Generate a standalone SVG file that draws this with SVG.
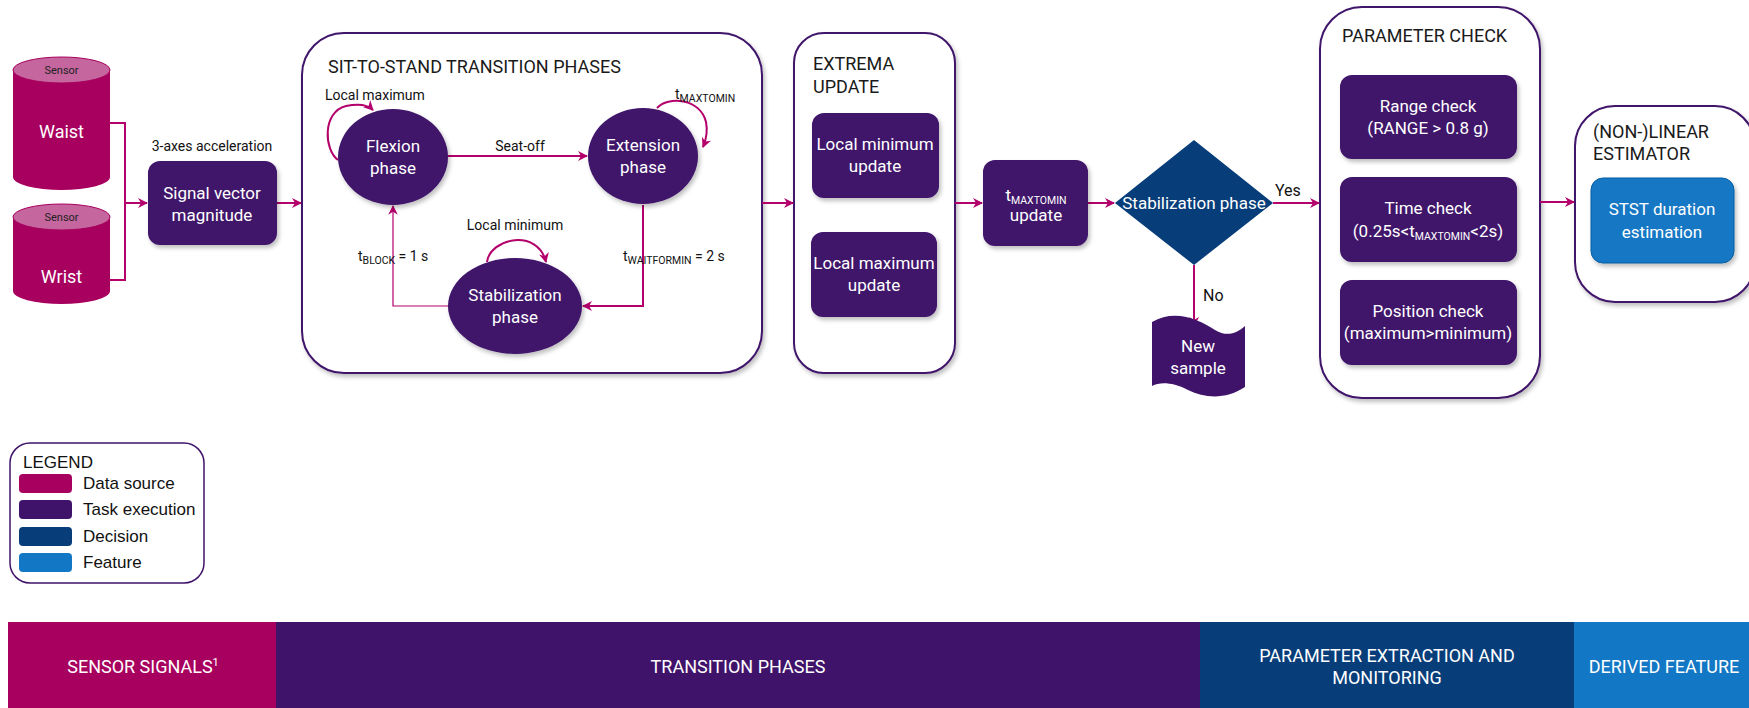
<svg xmlns="http://www.w3.org/2000/svg" width="1749" height="708" viewBox="0 0 1749 708">
<style>
  text { font-family: Roboto, "Liberation Sans", sans-serif; }
  .w { fill: #ffffff; font-size: 17px; text-anchor: middle; }
  .lbl { fill: #111111; font-size: 14px; }
  .title { fill: #1a1a1a; font-size: 18px; }
  .cont { fill: #ffffff; stroke: #3f136a; stroke-width: 2; }
  .task { fill: #3f136a; }
  .conn { fill: none; stroke: #b3006b; stroke-width: 2; }
  .thin { fill: none; stroke: #b3006b; stroke-width: 1.2; }
  .band { fill: #ffffff; font-size: 18px; text-anchor: middle; }
  .leg { fill: #111111; font-size: 17px; font-family: "Liberation Sans", Arial, sans-serif; }
  .sub { font-size: 10.5px; }
</style>
<defs>
  <marker id="arr" viewBox="0 0 10 10" refX="9" refY="5" markerWidth="5" markerHeight="5" orient="auto" markerUnits="strokeWidth">
    <path d="M0,0 L10,5 L0,10 L3,5 Z" fill="#b3006b"/>
  </marker>
  <marker id="arrt" viewBox="0 0 10 10" refX="9" refY="5" markerWidth="8" markerHeight="8" orient="auto" markerUnits="strokeWidth">
    <path d="M0,0 L10,5 L0,10 L3,5 Z" fill="#b3006b"/>
  </marker>
  <filter id="sh" x="-10%" y="-10%" width="125%" height="130%">
    <feDropShadow dx="2" dy="3" stdDeviation="2" flood-color="#000000" flood-opacity="0.25"/>
  </filter>
</defs>
<rect width="1749" height="708" fill="#ffffff"/>

<!-- containers -->
<g id="sts-container"><rect class="cont" x="302" y="33" width="460" height="340" rx="42" filter="url(#sh)"/>
  <text class="title" x="328" y="73">SIT-TO-STAND TRANSITION PHASES</text></g>
<g id="extrema-container"><rect class="cont" x="794" y="33" width="161" height="340" rx="30" filter="url(#sh)"/>
  <text class="title" x="813" y="70">EXTREMA</text><text class="title" x="813" y="93">UPDATE</text></g>
<g id="param-container"><rect class="cont" x="1320" y="7" width="220" height="391" rx="42" filter="url(#sh)"/>
  <text class="title" x="1342" y="42">PARAMETER CHECK</text></g>
<g id="estimator-container"><rect class="cont" x="1575" y="106" width="180" height="196" rx="40" filter="url(#sh)"/>
  <text class="title" x="1593" y="138">(NON-)LINEAR</text><text class="title" x="1593" y="160">ESTIMATOR</text></g>

<!-- connectors -->
<g id="connectors">
  <path class="conn" d="M110,123 H125 V203 H147" marker-end="url(#arr)"/>
  <path class="conn" d="M110,280 H125 V203"/>
  <path class="conn" d="M277,203 H301" marker-end="url(#arr)"/>
  <path class="conn" d="M448,156 H587" marker-end="url(#arr)"/>
  <path class="conn" d="M338,160 C324,150 322,112 346,106 C360,103 368,105 373,110" marker-end="url(#arr)"/>
  <path class="conn" d="M657,108 C668,96 700,98 706,122 C708,132 706,140 703,147" marker-end="url(#arr)"/>
  <path class="conn" d="M487,262 C490,238 538,228 546,262" marker-end="url(#arr)"/>
  <path class="conn" d="M643,205 V306 H583" marker-end="url(#arr)"/>
  <path class="thin" d="M448,306 H393 V206" marker-end="url(#arrt)"/>
  <path class="conn" d="M762,203 H793" marker-end="url(#arr)"/>
  <path class="conn" d="M955,203 H982" marker-end="url(#arr)"/>
  <path class="conn" d="M1088,203 H1114" marker-end="url(#arr)"/>
  <path class="conn" d="M1273,203 H1319" marker-end="url(#arr)"/>
  <path class="conn" d="M1194,265 V326" marker-end="url(#arr)"/>
  <path class="conn" d="M1540,202 H1574" marker-end="url(#arr)"/>
  <text class="lbl" x="212" y="151" text-anchor="middle">3-axes acceleration</text>
  <text class="lbl" x="520" y="151" text-anchor="middle">Seat-off</text>
  <text class="lbl" x="325" y="100">Local maximum</text>
  <text class="lbl" x="675" y="99">t<tspan class="sub" dy="3">MAXTOMIN</tspan></text>
  <text class="lbl" x="515" y="230" text-anchor="middle">Local minimum</text>
  <text class="lbl" x="358" y="261">t<tspan class="sub" dy="3">BLOCK</tspan><tspan dy="-3"> = 1 s</tspan></text>
  <text class="lbl" x="623" y="261">t<tspan class="sub" dy="3">WAITFORMIN</tspan><tspan dy="-3"> = 2 s</tspan></text>
  <text class="lbl" x="1275" y="196" style="font-size:16px">Yes</text>
  <text class="lbl" x="1203" y="301" style="font-size:16px">No</text>
</g>

<!-- sensors -->
<g id="waist">
  <path d="M13,70 V177 A48.5,13 0 0 0 110,177 V70 Z" fill="#a8005e"/>
  <ellipse cx="61.5" cy="70" rx="48.5" ry="13" fill="#c5669e" stroke="#a8005e" stroke-width="1"/>
  <text x="61.5" y="74" text-anchor="middle" style="font-size:11px;fill:#222">Sensor</text>
  <text class="w" x="61.5" y="138" style="font-size:18px">Waist</text>
</g>
<g id="wrist">
  <path d="M13,217 V291 A48.5,13 0 0 0 110,291 V217 Z" fill="#a8005e"/>
  <ellipse cx="61.5" cy="217" rx="48.5" ry="13" fill="#c5669e" stroke="#a8005e" stroke-width="1"/>
  <text x="61.5" y="221" text-anchor="middle" style="font-size:11px;fill:#222">Sensor</text>
  <text class="w" x="61.5" y="283" style="font-size:18px">Wrist</text>
</g>

<g id="svm"><rect class="task" x="148" y="161" width="129" height="84" rx="12" filter="url(#sh)"/>
  <text class="w" x="212" y="199">Signal vector</text><text class="w" x="212" y="221">magnitude</text></g>

<g id="flexion"><ellipse class="task" cx="393" cy="157" rx="55" ry="48" filter="url(#sh)"/>
  <text class="w" x="393" y="152">Flexion</text><text class="w" x="393" y="174">phase</text></g>
<g id="extension"><ellipse class="task" cx="643" cy="156" rx="55" ry="48" filter="url(#sh)"/>
  <text class="w" x="643" y="151">Extension</text><text class="w" x="643" y="173">phase</text></g>
<g id="stabilization"><ellipse class="task" cx="515" cy="306" rx="67" ry="48" filter="url(#sh)"/>
  <text class="w" x="515" y="301">Stabilization</text><text class="w" x="515" y="323">phase</text></g>

<g id="local-min-update"><rect class="task" x="812" y="113" width="127" height="85" rx="12" filter="url(#sh)"/>
  <text class="w" x="875" y="150">Local minimum</text><text class="w" x="875" y="172">update</text></g>
<g id="local-max-update"><rect class="task" x="811" y="232" width="126" height="85" rx="12" filter="url(#sh)"/>
  <text class="w" x="874" y="269">Local maximum</text><text class="w" x="874" y="291">update</text></g>

<g id="tmaxtomin-update"><rect class="task" x="983" y="160" width="105" height="86" rx="12" filter="url(#sh)"/>
  <text class="w" x="1036" y="201">t<tspan class="sub" dy="3">MAXTOMIN</tspan></text><text class="w" x="1036" y="221">update</text></g>

<g id="decision"><polygon points="1194,140 1273,203 1194,265 1115,203" fill="#073d79"/>
  <text class="w" x="1194" y="209">Stabilization phase</text></g>

<g id="new-sample"><path d="M1152,322 C1175,308 1200,320 1215,330 C1228,338 1238,332 1245,326 L1245,387 C1225,400 1205,398 1188,390 C1172,382 1160,382 1152,386 Z" fill="#3f136a"/>
  <text class="w" x="1198" y="352">New</text><text class="w" x="1198" y="374">sample</text></g>

<g id="range-check"><rect class="task" x="1340" y="75" width="177" height="84" rx="12" filter="url(#sh)"/>
  <text class="w" x="1428" y="112">Range check</text><text class="w" x="1428" y="134">(RANGE &gt; 0.8 g)</text></g>
<g id="time-check"><rect class="task" x="1340" y="177" width="177" height="85" rx="12" filter="url(#sh)"/>
  <text class="w" x="1428" y="214">Time check</text><text class="w" x="1428" y="237">(0.25s&lt;t<tspan class="sub" dy="3">MAXTOMIN</tspan><tspan dy="-3">&lt;2s)</tspan></text></g>
<g id="position-check"><rect class="task" x="1340" y="280" width="177" height="85" rx="12" filter="url(#sh)"/>
  <text class="w" x="1428" y="317">Position check</text><text class="w" x="1428" y="339">(maximum&gt;minimum)</text></g>

<g id="stst"><rect x="1591" y="178" width="143" height="85" rx="12" fill="#1277c4" stroke="#0d5fa0" stroke-width="1" filter="url(#sh)"/>
  <text class="w" x="1662" y="215">STST duration</text><text class="w" x="1662" y="238">estimation</text></g>

<g id="legend">
  <rect x="10" y="443" width="194" height="140" rx="20" fill="#ffffff" stroke="#3f136a" stroke-width="1.5"/>
  <text class="leg" x="23" y="468">LEGEND</text>
  <rect x="19" y="474" width="53" height="19" rx="4" fill="#a8005e"/>
  <rect x="19" y="500" width="53" height="19" rx="4" fill="#3f136a"/>
  <rect x="19" y="527" width="53" height="19" rx="4" fill="#073d79"/>
  <rect x="19" y="553" width="53" height="19" rx="4" fill="#1277c4"/>
  <text class="leg" x="83" y="489">Data source</text>
  <text class="leg" x="83" y="515">Task execution</text>
  <text class="leg" x="83" y="542">Decision</text>
  <text class="leg" x="83" y="568">Feature</text>
</g>

<g id="bands">
  <rect x="8" y="622" width="268" height="86" fill="#a8005e"/>
  <rect x="276" y="622" width="924" height="86" fill="#3f136a"/>
  <rect x="1200" y="622" width="374" height="86" fill="#073d79"/>
  <rect x="1574" y="622" width="175" height="86" fill="#1277c4"/>
  <text class="band" x="143" y="673">SENSOR SIGNALS<tspan font-size="11" dy="-7">1</tspan></text>
  <text class="band" x="738" y="673">TRANSITION PHASES</text>
  <text class="band" x="1387" y="662">PARAMETER EXTRACTION AND</text>
  <text class="band" x="1387" y="684">MONITORING</text>
  <text class="band" x="1664" y="673">DERIVED FEATURE</text>
</g>
</svg>
